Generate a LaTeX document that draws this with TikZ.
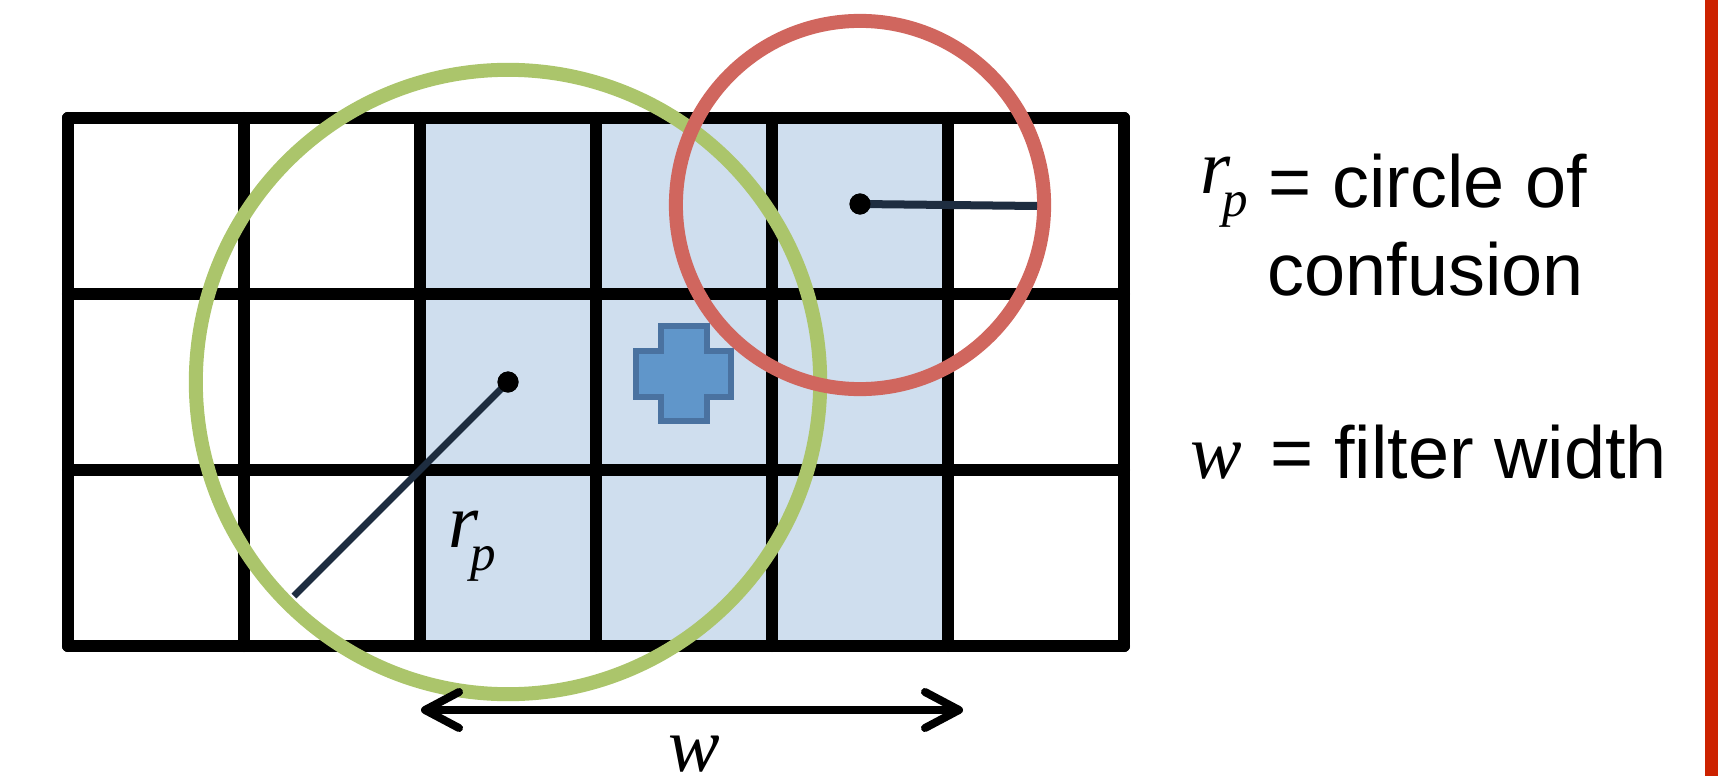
\documentclass[tikz,border=0pt]{standalone}
\usepackage{fontspec}
\setmainfont{Liberation Sans}
\newfontfamily\timesfont{Liberation Serif}
\usetikzlibrary{arrows.meta}
\definecolor{cellblue}{RGB}{207,222,238}
\definecolor{cocgreen}{RGB}{171,197,107}
\definecolor{cocred}{RGB}{208,102,94}
\definecolor{crossfill}{RGB}{96,150,202}
\definecolor{crossedge}{RGB}{74,114,160}
\definecolor{navyline}{RGB}{30,45,64}
\definecolor{sidebar}{RGB}{204,34,0}
\newcommand{\varsym}[1]{{\timesfont\itshape #1}}
\newcommand{\rpsym}{\varsym{r}\kern-2.5pt\lower6.8pt\hbox{\fontsize{14.5}{15}\selectfont\varsym{p}}}

\begin{document}
\begin{tikzpicture}[
  x=0.01cm, y=-0.01cm,
  gridline/.style={line width=1.2mm, line cap=round, line join=round},
  coc/.style={line width=1.4mm},
  rline/.style={draw=navyline, line width=0.7mm},
  dot/.style={circle, fill=black, inner sep=0pt, minimum size=2.1mm},
  warrow/.style={line width=0.8mm, {Straight Barb[length=3.4mm, width=3.6mm, round]}-{Straight Barb[length=3.4mm, width=3.6mm, round]}},
  keytext/.style={inner sep=0pt, anchor=base west, font=\fontsize{21}{25}\selectfont},
  symtext/.style={inner sep=0pt, anchor=base west, font=\fontsize{22}{26}\selectfont}
]
  \useasboundingbox (0,0) rectangle (1722,776);

  % filter footprint
  \fill[cellblue] (420,118) rectangle (948,646);

  % pixel grid
  \foreach \x in {68,244,...,1124}
    \draw[gridline] (\x,118) -- (\x,646);
  \foreach \y in {118,294,470,646}
    \draw[gridline] (68,\y) -- (1124,\y);

  % sample
  \draw[crossedge, fill=crossfill, line width=0.6mm]
    (661,326) -- (707,326) -- (707,351) -- (731,351) -- (731,397) -- (707,397)
    -- (707,421) -- (661,421) -- (661,397) -- (636,397) -- (636,351) -- (661,351) -- cycle;

  % circles of confusion
  \draw[coc, cocgreen] (508,382) circle[radius=3.12cm];
  \draw[coc, cocred] (860,205) circle[radius=1.84cm];

  \coordinate (gedge) at (294,596);
  \coordinate (redge) at (1037,206);
  \node[dot] (gc) at (508,382) {};
  \node[dot] (rc) at (860,204) {};
  \draw[rline] (gc.center) -- (gedge);
  \draw[rline, line width=0.8mm] (rc.center) -- (redge);
  \node[dot] at (gc) {};
  \node[dot] at (rc) {};

  % filter width
  \coordinate (wl) at (421,710);
  \coordinate (wr) at (963,710);
  \draw[warrow] (wl) -- (wr);

  \node[symtext] (rpgrid) at (448,547) {\rpsym};
  \node[symtext] (wbot) at (668,771) {\varsym{w}};

  % key
  \node[symtext] (rpkey) at (1200,193) {\rpsym};
  \node[keytext] (coctext) at (1268,208) {= circle of};
  \node[keytext] (coctext2) at (1267,295) {confusion};
  \node[symtext] (wkey) at (1190,478) {\varsym{w}};
  \node[keytext] (wtext) at (1270,478) {= filter width};

  \draw[sidebar, line width=1.3mm] (1711.5,0) -- (1711.5,776);
\end{tikzpicture}
\end{document}
